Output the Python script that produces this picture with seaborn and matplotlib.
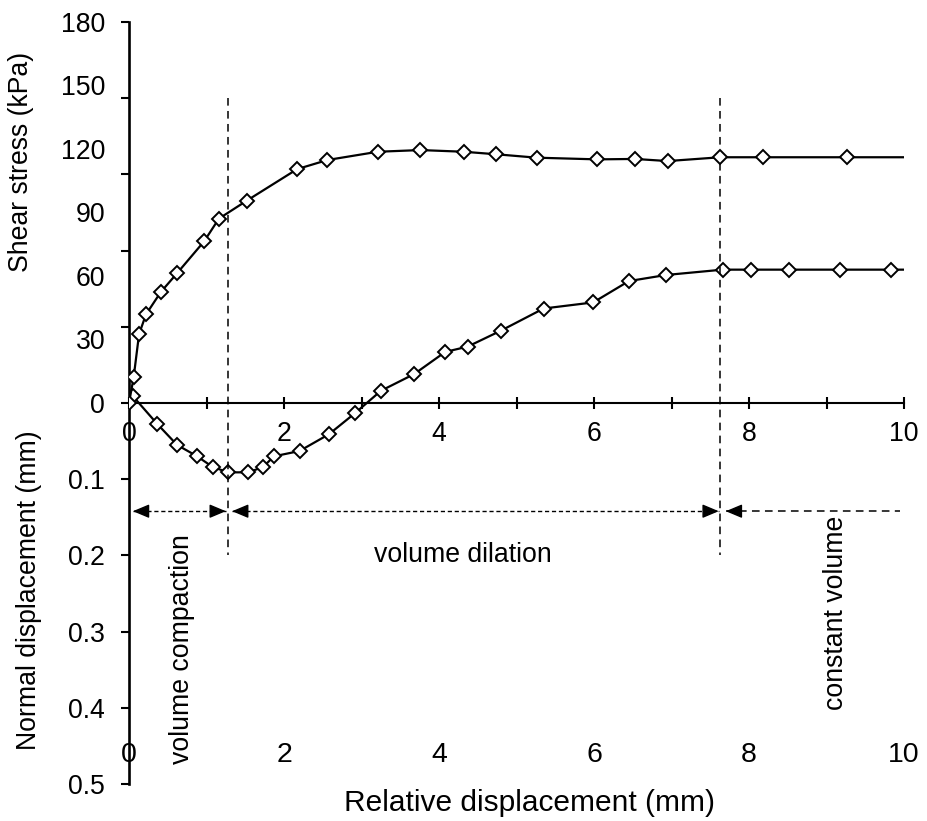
import numpy as np
import pandas as pd
import matplotlib
matplotlib.use("Agg")
import matplotlib.pyplot as plt
from matplotlib.ticker import MultipleLocator
import seaborn as sns

# ---------------- data ----------------
shear_x = [0.0, 0.06, 0.13, 0.22, 0.41, 0.62, 0.97, 1.16, 1.52, 2.17, 2.56, 3.21,
           3.76, 4.32, 4.74, 5.26, 6.04, 6.53, 6.95, 7.63, 8.18, 9.26, 10.0]
shear_y = [0.0, 12.1, 32.6, 41.9, 52.4, 61.3, 76.4, 87.1, 95.6, 110.5, 114.8, 118.7,
           119.5, 118.7, 117.5, 115.9, 115.1, 115.3, 114.3, 116.1, 116.1, 116.1, 116.1]

normal_x = [0.0, 0.05, 0.36, 0.62, 0.88, 1.08, 1.28, 1.54, 1.73, 1.87, 2.20, 2.58, 2.92,
            3.25, 3.68, 4.08, 4.37, 4.80, 5.35, 5.99, 6.45, 6.93, 7.66, 8.03, 8.51,
            9.17, 9.83, 10.0]
normal_y = [0.0, -0.009, 0.027, 0.055, 0.070, 0.084, 0.091, 0.091, 0.084, 0.070, 0.063,
            0.041, 0.013, -0.016, -0.038, -0.067, -0.074, -0.095, -0.124, -0.132,
            -0.160, -0.168, -0.175, -0.175, -0.175, -0.175, -0.175, -0.175]

shear_ticks = [30, 60, 90, 120, 150, 180]
normal_ticks = [-0.5, -0.4, -0.3, -0.2, -0.1, 0.0, 0.1, 0.2, 0.3, 0.4, 0.5]
normal_labels = ["", "", "", "", "", "0", "0.1", "0.2", "0.3", "0.4", "0.5"]
x_major = [0, 2, 4, 6, 8, 10]

phase_bounds = [1.28, 7.63]
arrow_level = 0.142
arrow_spans = [(0.05, 1.25), (1.33, 7.61)]
constant_span = (7.70, 9.95)

phase_texts = ["volume compaction", "volume dilation", "constant volume"]
phase_text_x = [0.68, 4.31, 9.12]
phase_text_y = [0.323, 0.200, 0.276]
phase_text_rot = [90, 0, 90]

# ---------------- style ----------------
sns.set_theme(style="white")
plt.rcParams["font.family"] = ["Liberation Sans", "DejaVu Sans"]
FS = 19.2

fig = plt.figure(figsize=(9.27, 8.21), dpi=100)
ax = fig.add_axes([129 / 927, 37 / 821, 775 / 927, 762 / 821])
ax.set_xlim(0, 10)
ax.set_ylim(0.5, -0.5)

ax2 = ax.twinx()
ax2.set_ylim(-180, 180)

shear_df = pd.DataFrame({"x": shear_x, "y": shear_y})
normal_df = pd.DataFrame({"x": normal_x, "y": normal_y})

line_kw = dict(color="black", linewidth=1.6, marker="D", markersize=7.3,
               markerfacecolor="white", markeredgecolor="black", markeredgewidth=1.4,
               sort=False, legend=False)
sns.lineplot(data=normal_df, x="x", y="y", ax=ax, markevery=list(range(1, len(normal_x) - 1)),
             **line_kw)
sns.lineplot(data=shear_df, x="x", y="y", ax=ax2, markevery=list(range(0, len(shear_x) - 1)),
             **line_kw)

# spines
for s in ["top", "right"]:
    ax.spines[s].set_visible(False)
for s in ax2.spines.values():
    s.set_visible(False)
ax.spines["left"].set_linewidth(1.9)
ax.spines["left"].set_color("black")
ax.spines["bottom"].set_position(("data", 0))
ax.spines["bottom"].set_linewidth(1.5)
ax.spines["bottom"].set_color("black")

# x axis (the one through zero)
ax.set_xticks(x_major)
ax.xaxis.set_minor_locator(MultipleLocator(1))
ax.tick_params(axis="x", which="both", direction="inout", length=9, width=1.5,
               colors="black", labelsize=FS, pad=8.5, bottom=True)
ax.set_xlabel("")

# primary y (normal displacement)
ax.set_yticks(normal_ticks, normal_labels)
ax.tick_params(axis="y", direction="out", length=6, width=1.5, colors="black",
               labelsize=FS, pad=11.5, left=True)
ax.set_ylabel("Normal displacement (mm)", fontsize=FS, color="black")
ax.yaxis.set_label_coords(-0.112, 0.255)

# secondary y (shear stress)
ax2.yaxis.tick_left()
ax2.yaxis.set_label_position("left")
ax2.set_yticks(shear_ticks, [str(t) for t in shear_ticks])
ax2.tick_params(axis="y", length=0, pad=17, labelsize=FS, colors="black")
ax2.set_ylabel("Shear stress (kPa)", fontsize=FS, color="black")
ax2.yaxis.set_label_coords(-0.123, 0.816)

# bottom row of x labels
sec = ax.secondary_xaxis(0.055)
sec.set_xticks(x_major, [str(v) for v in x_major])
sec.tick_params(axis="x", length=0, pad=0, labelsize=20.5, colors="black")
sec.spines["bottom"].set_visible(False)
sec.set_xlabel("Relative displacement (mm)", fontsize=21.5, color="black", labelpad=15)
sec.xaxis.label.set_x(0.517)

# phase boundaries
ax.vlines(phase_bounds, -0.4, 0.2, colors="black", linewidth=1.1,
          linestyles=[(0, (5, 3.5))])

# arrows
head = dict(arrowstyle="-|>,head_length=1.0,head_width=0.42", color="black",
            lw=1.0, shrinkA=0, shrinkB=0, mutation_scale=10)
for a, b in arrow_spans:
    ax.hlines(arrow_level, a, b, colors="black", linewidth=1.0, linestyles=[(0, (3, 2))])
    ax.annotate("", xy=(a, arrow_level), xytext=(a + 0.17, arrow_level), arrowprops=head)
    ax.annotate("", xy=(b, arrow_level), xytext=(b - 0.17, arrow_level), arrowprops=head)
ca, cb = constant_span
ax.hlines(arrow_level, ca, cb, colors="black", linewidth=1.1, linestyles=[(0, (5, 3.5))])
ax.annotate("", xy=(ca, arrow_level), xytext=(ca + 0.17, arrow_level), arrowprops=head)

for t, x, y, r in zip(phase_texts, phase_text_x, phase_text_y, phase_text_rot):
    ax.text(x, y, t, rotation=r, ha="center", va="center", fontsize=FS, color="black")

fig.savefig("out.png", dpi=100)
